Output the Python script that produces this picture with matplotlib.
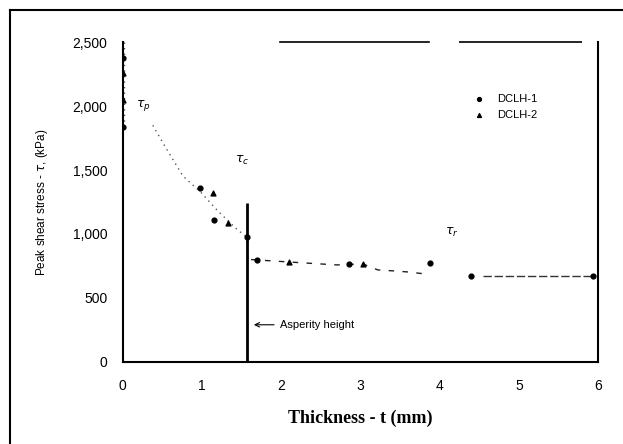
import matplotlib.pyplot as plt
from matplotlib.lines import Line2D
from matplotlib.ticker import FuncFormatter

# --- data ---
# DCLH-1 (filled circles)
X_DCLH1 = [0.0, 0.0, 0.98, 1.15, 1.57, 1.70, 2.85, 3.88, 4.40, 5.93]
Y_DCLH1 = [2375, 1836, 1359, 1109, 977, 797, 766, 773, 672, 672]
# DCLH-2 (small triangles)
X_DCLH2 = [0.0, 0.0, 1.14, 1.33, 2.10, 3.03]
Y_DCLH2 = [2258, 2047, 1320, 1086, 781, 766]

# trend lines
X_PEAK = [0.02, 0.02]
Y_PEAK = [2500, 1836]
X_SOFT = [0.38, 0.53, 0.76, 0.98, 1.20, 1.45, 1.57]
Y_SOFT = [1850, 1688, 1453, 1330, 1180, 1031, 977]
X_RES1 = [1.62, 2.10, 2.70, 3.03, 3.22, 3.43, 3.60, 3.81]
Y_RES1 = [800, 781, 758, 766, 719, 711, 703, 688]
X_RES2 = [4.55, 5.93]
Y_RES2 = [672, 672]

ASPERITY_X = 1.57
ASPERITY_TOP = 1240

X_TICKS = [0, 1, 2, 3, 4, 5, 6]
Y_TICKS = [0, 500, 1000, 1500, 2000, 2500]

plt.rcParams['font.family'] = ['Liberation Sans', 'DejaVu Sans']

fig = plt.figure(figsize=(6.23, 4.44), dpi=100)
ax = fig.add_axes([0.197, 0.185, 0.763, 0.72])

# trend lines
ax.plot(X_PEAK, Y_PEAK, color='#555555', linestyle=(0, (1, 3)), linewidth=1)
ax.plot(X_SOFT, Y_SOFT, color='#555555', linestyle=(0, (1, 3)), linewidth=1)
ax.plot(X_RES1, Y_RES1, color='#222222', linestyle=(0, (4, 6)), linewidth=1)
ax.plot(X_RES2, Y_RES2, color='#333333', linestyle=(0, (6, 2)), linewidth=1)

# points
ax.scatter(X_DCLH1, Y_DCLH1, s=12, color='black', marker='o', zorder=5, label='DCLH-1')
ax.scatter(X_DCLH2, Y_DCLH2, s=12, color='black', marker='^', zorder=5, label='DCLH-2')

# asperity height marker
ax.vlines(ASPERITY_X, 0, ASPERITY_TOP, color='black', linewidth=2)
ax.annotate('Asperity height', xy=(1.62, 290), xytext=(1.98, 290),
            fontsize=8, va='center', ha='left',
            arrowprops=dict(arrowstyle='->', color='black', lw=0.8))

# stress labels
ax.text(0.17, 1990, r'$\tau_p$', fontsize=9)
ax.text(1.42, 1555, r'$\tau_c$', fontsize=9)
ax.text(4.07, 992, r'$\tau_r$', fontsize=9)

ax.set_xlim(0, 6)
ax.set_ylim(0, 2500)
ax.set_xticks(X_TICKS)
ax.set_yticks(Y_TICKS)
ax.yaxis.set_major_formatter(FuncFormatter(lambda v, p: f'{v:,.0f}'))
ax.tick_params(length=0, labelsize=10)
ax.tick_params(axis='y', pad=11)
ax.tick_params(axis='x', pad=12)

for side in ['left', 'bottom', 'right']:
    ax.spines[side].set_linewidth(1.5)
ax.spines['top'].set_linewidth(1.2)
ax.spines['top'].set_bounds(1.98, 3.87)
ax.hlines(2500, 4.25, 5.8, color='black', linewidth=1.2, clip_on=False)

ax.legend(loc='upper left', bbox_to_anchor=(0.705, 0.87), frameon=False,
          fontsize=8, handletextpad=0.6, labelspacing=0.6, markerscale=0.8)

ax.set_xlabel('Thickness - t (mm)', fontsize=13, fontweight='bold',
              family='Liberation Serif', labelpad=12)
fig.text(0.068, 0.545, r'Peak shear stress - $\tau$, (kPa)', rotation=90,
         fontsize=8.5, ha='center', va='center')

# outer frame of the scanned page
fig.add_artist(Line2D([10 / 623, 10 / 623], [0, 1 - 10 / 444],
                      transform=fig.transFigure, color='black', linewidth=1.5))
fig.add_artist(Line2D([10 / 623, 1], [1 - 10 / 444, 1 - 10 / 444],
                      transform=fig.transFigure, color='black', linewidth=1.5))

fig.savefig('out.png', dpi=100)
